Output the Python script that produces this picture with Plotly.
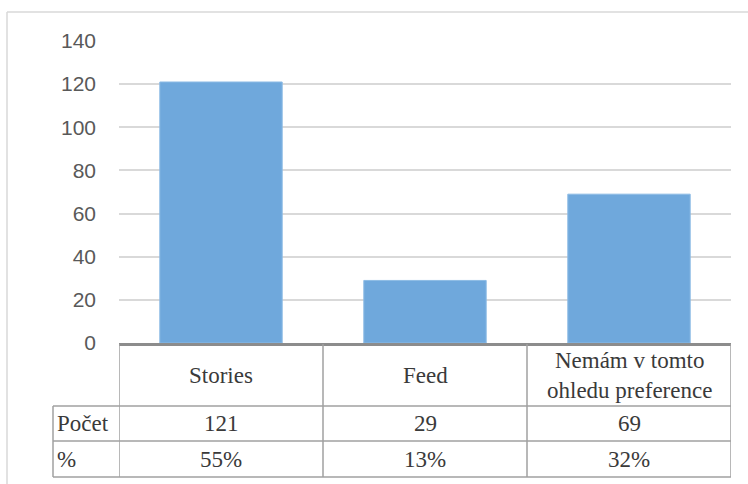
import plotly.graph_objects as go

# ---- data ----
categories = ["Stories", "Feed", "Nemám v tomto<br>ohledu preference"]
counts = [121, 29, 69]
percents = [55, 13, 32]
row_labels = ["Počet", "%"]
y_ticks = [0, 20, 40, 60, 80, 100, 120, 140]

W, H = 748, 484
def py(p):  # pixel y -> paper
    return (H - p) / H
def px(p):
    return p / W

x_left, x_right = 119, 731
y_zero, y_top = 343, 41

fig = go.Figure()
fig.add_trace(go.Bar(
    x=list(range(len(categories))), y=counts, width=0.6,
    marker=dict(color="#6FA8DC", line=dict(color="#8DBBE5", width=1)),
    hoverinfo="skip", showlegend=False,
))

serif = "Liberation Serif"
tcol = "#3a3a3a"
grid = "#a0a0a0"
fs = 23

shapes = []
shapes.append(dict(type="line", xref="paper", yref="paper", x0=px(7), x1=1.0, y0=py(12), y1=py(12),
                   line=dict(color="#d9d9d9", width=1.5)))
shapes.append(dict(type="line", xref="paper", yref="paper", x0=px(7), x1=px(7), y0=py(12), y1=0,
                   line=dict(color="#d9d9d9", width=1.5)))

t_hdr_top, t_r1, t_r2, t_bot = 344, 406, 441, 477
lab_left = 53
for yy in (t_r1, t_r2, t_bot):
    shapes.append(dict(type="line", xref="paper", yref="paper", x0=px(lab_left), x1=px(x_right),
                       y0=py(yy), y1=py(yy), line=dict(color=grid, width=1.5)))
for i in range(len(categories) + 1):
    shapes.append(dict(type="line", xref="x", yref="paper", x0=i - 0.5, x1=i - 0.5,
                       y0=py(t_hdr_top), y1=py(t_bot), line=dict(color=grid, width=1.5)))
shapes.append(dict(type="line", xref="paper", yref="paper", x0=px(lab_left), x1=px(lab_left),
                   y0=py(t_r1), y1=py(t_bot), line=dict(color=grid, width=1.5)))

annotations = []
for i, c in enumerate(categories):
    annotations.append(dict(x=i, xref="x", y=py((t_hdr_top + t_r1) / 2), yref="paper",
                            text=c, showarrow=False, xanchor="center", yanchor="middle",
                            font=dict(family=serif, size=fs, color=tcol)))
    annotations.append(dict(x=i, xref="x", y=py((t_r1 + t_r2) / 2), yref="paper",
                            text=str(counts[i]), showarrow=False, xanchor="center", yanchor="middle",
                            font=dict(family=serif, size=fs, color=tcol)))
    annotations.append(dict(x=i, xref="x", y=py((t_r2 + t_bot) / 2), yref="paper",
                            text=f"{percents[i]}%", showarrow=False, xanchor="center", yanchor="middle",
                            font=dict(family=serif, size=fs, color=tcol)))
for j, lab in enumerate(row_labels):
    yc = (t_r1 + t_r2) / 2 if j == 0 else (t_r2 + t_bot) / 2
    annotations.append(dict(x=px(lab_left + 2), xref="paper", y=py(yc), yref="paper",
                            text=lab, showarrow=False, xanchor="left", yanchor="middle",
                            font=dict(family=serif, size=fs, color=tcol)))

fig.update_layout(
    width=W, height=H, margin=dict(l=0, r=0, t=0, b=0, pad=0, autoexpand=False),
    paper_bgcolor="white", plot_bgcolor="white",
    bargap=0.4,
    xaxis=dict(domain=[px(x_left), px(x_right)], range=[-0.5, 2.5], showticklabels=False,
               showgrid=False, zeroline=False, showline=True, linecolor="#8c8c8c", linewidth=2.5,
               ticks="", automargin=False),
    yaxis=dict(domain=[py(y_zero), py(y_top)], range=[0, 140], tickvals=y_ticks,
               showgrid=True, gridcolor="#d9d9d9", gridwidth=1.5, zeroline=False, showline=False,
               ticks="", ticklabelstandoff=22, automargin=False,
               tickfont=dict(family="Liberation Sans", size=21, color="#595959")),
    shapes=shapes, annotations=annotations,
)

post = (
    "document.body.style.margin='0';document.body.style.padding='0';"
    "document.documentElement.style.overflow='hidden';"
)
fig.write_html("out.html", config={"displayModeBar": False}, post_script=post)
